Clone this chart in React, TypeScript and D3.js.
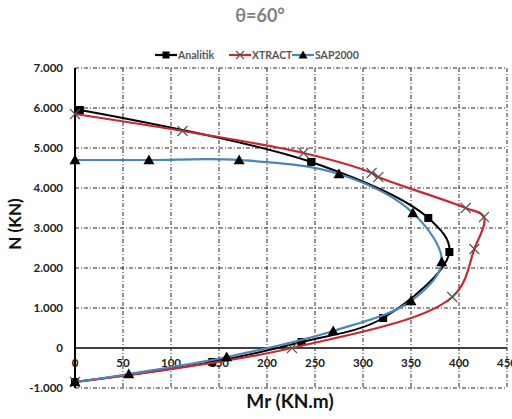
import React, { useEffect, useRef } from 'react';
import * as d3 from 'd3';

// Analitik (black, squares)
const analitikM = [5, 246, 368, 390, 321, 236, 143, 0];
const analitikN = [5950, 4650, 3250, 2400, 750, 150, -350, -850];

// XTRACT (red, crosses)
const xtractM = [0, 112, 238, 309, 316, 407, 426, 416, 393, 226, 0];
const xtractN = [5850, 5425, 4875, 4375, 4275, 3500, 3275, 2475, 1275, 0, -850];

// SAP2000 (blue, triangles)
const sapM = [0, 77, 171, 275, 352, 382, 350, 269, 158, 56, 0];
const sapN = [4700, 4700, 4700, 4350, 3375, 2150, 1175, 425, -225, -650, -850];

const xTicks = [0, 50, 100, 150, 200, 250, 300, 350, 400, 450];
const yTicks = [-1000, 0, 1000, 2000, 3000, 4000, 5000, 6000, 7000];
const yTickLabels = ['-1.000', '0', '1.000', '2.000', '3.000', '4.000', '5.000', '6.000', '7.000'];

const seriesNames = ['Analitik', 'XTRACT', 'SAP2000'];

const FONT = 'Lato, "Liberation Sans", Arial, sans-serif';
const RED = '#c8282e';
const BLUE = '#4a86b8';

type Pt = [number, number];

const App: React.FC = () => {
    const svgRef = useRef<SVGSVGElement>(null);

    useEffect(() => {
        if (!svgRef.current) return;
        const svg = d3.select(svgRef.current);
        svg.selectAll('*').remove();

        const x = d3.scaleLinear().domain([0, 450]).range([75, 507]);
        const y = d3.scaleLinear().domain([-1000, 7000]).range([388, 68]);

        // title
        svg.append('text')
            .attr('x', 260).attr('y', 22)
            .attr('text-anchor', 'middle')
            .attr('font-family', FONT).attr('font-weight', 'bold')
            .attr('font-size', 18).attr('fill', '#7f7f7f')
            .text('θ=60°');

        // grid (dash-dot)
        const grid = svg.append('g')
            .attr('stroke', '#111').attr('stroke-width', 0.9)
            .attr('stroke-dasharray', '4,2,1,2');
        grid.selectAll('.vg').data(xTicks.slice(1)).enter().append('line')
            .attr('x1', d => x(d)).attr('x2', d => x(d))
            .attr('y1', y(7000)).attr('y2', y(-1000));
        grid.selectAll('.hg').data(yTicks.filter(d => d !== 0)).enter().append('line')
            .attr('x1', x(0)).attr('x2', x(450))
            .attr('y1', d => y(d)).attr('y2', d => y(d));

        // zero line and y axis
        svg.append('line')
            .attr('x1', x(0)).attr('x2', x(450))
            .attr('y1', y(0)).attr('y2', y(0))
            .attr('stroke', '#404040').attr('stroke-width', 2);
        svg.append('line')
            .attr('x1', x(0)).attr('x2', x(0))
            .attr('y1', y(7000)).attr('y2', y(-1000))
            .attr('stroke', '#000').attr('stroke-width', 2);

        // y tick labels
        svg.selectAll('.yl').data(yTicks).enter().append('text')
            .attr('x', 63).attr('y', d => y(d) + 4)
            .attr('text-anchor', 'end')
            .attr('font-family', FONT).attr('font-weight', 'bold')
            .attr('font-size', 11.5).attr('fill', '#222')
            .text((d, i) => yTickLabels[i]);

        // x tick labels (sitting under zero line)
        svg.selectAll('.xl').data(xTicks).enter().append('text')
            .attr('x', d => x(d)).attr('y', y(0) + 19)
            .attr('text-anchor', 'middle')
            .attr('font-family', FONT).attr('font-weight', 'bold')
            .attr('font-size', 11.5).attr('fill', '#222')
            .text(d => String(d));

        // axis titles
        svg.append('text')
            .attr('x', 290).attr('y', 408)
            .attr('text-anchor', 'middle')
            .attr('font-family', FONT).attr('font-weight', 'bold')
            .attr('font-size', 19).attr('fill', '#111')
            .text('Mr (KN.m)');
        svg.append('text')
            .attr('transform', 'translate(21,224) rotate(-90)')
            .attr('text-anchor', 'middle')
            .attr('font-family', FONT).attr('font-weight', 'bold')
            .attr('font-size', 17).attr('fill', '#111')
            .text('N (KN)');

        const line = d3.line<Pt>()
            .x(d => x(d[0])).y(d => y(d[1]))
            .curve(d3.curveCatmullRom.alpha(0.5));

        const zip = (m: number[], n: number[]): Pt[] => m.map((v, i) => [v, n[i]]);
        const aPts = zip(analitikM, analitikN);
        const xPts = zip(xtractM, xtractN);
        const sPts = zip(sapM, sapN);

        const square = (g: d3.Selection<SVGGElement, unknown, null, undefined>, px: number, py: number, s: number) =>
            g.append('rect').attr('x', px - s / 2).attr('y', py - s / 2)
                .attr('width', s).attr('height', s).attr('fill', '#000');
        const cross = (g: d3.Selection<SVGGElement, unknown, null, undefined>, px: number, py: number, s: number) =>
            g.append('path')
                .attr('d', `M${px - s},${py - s}L${px + s},${py + s}M${px - s},${py + s}L${px + s},${py - s}`)
                .attr('stroke', '#555').attr('stroke-width', 1.1).attr('fill', 'none');
        const tri = (g: d3.Selection<SVGGElement, unknown, null, undefined>, px: number, py: number, s: number) =>
            g.append('path')
                .attr('d', `M${px},${py - s}L${px + s},${py + s * 0.75}L${px - s},${py + s * 0.75}Z`)
                .attr('fill', '#000');

        const plot = svg.append('g');

        // Analitik
        plot.append('path').attr('d', line(aPts)).attr('fill', 'none')
            .attr('stroke', '#000').attr('stroke-width', 2);
        const aG = plot.append('g');
        aPts.forEach(p => square(aG, x(p[0]), y(p[1]), 8));

        // XTRACT
        plot.append('path').attr('d', line(xPts)).attr('fill', 'none')
            .attr('stroke', RED).attr('stroke-width', 2.2);
        const xG = plot.append('g');
        xPts.forEach(p => cross(xG, x(p[0]), y(p[1]), 5));

        // SAP2000
        plot.append('path').attr('d', line(sPts)).attr('fill', 'none')
            .attr('stroke', BLUE).attr('stroke-width', 2.2);
        const sG = plot.append('g');
        sPts.forEach(p => tri(sG, x(p[0]), y(p[1]), 5.5));

        // legend
        const legend = svg.append('g').attr('font-family', FONT)
            .attr('font-weight', 'bold').attr('font-size', 10.5);
        const lx = [155, 229, 292];
        const colors = ['#000', RED, BLUE];
        seriesNames.forEach((name, i) => {
            const lg = legend.append('g');
            lg.append('line').attr('x1', lx[i]).attr('x2', lx[i] + 22)
                .attr('y1', 55).attr('y2', 55)
                .attr('stroke', colors[i]).attr('stroke-width', 2.2);
            if (i === 0) square(lg, lx[i] + 11, 55, 7);
            if (i === 1) cross(lg, lx[i] + 11, 55, 4);
            if (i === 2) tri(lg, lx[i] + 11, 55, 4.5);
            lg.append('text').attr('x', lx[i] + 23).attr('y', 59)
                .attr('fill', '#555').text(name);
        });
    }, []);

    return (
        <svg
            ref={svgRef}
            width={512}
            height={419}
            style={{ position: 'absolute', left: 0, top: 0, background: '#fff' }}
        />
    );
};

export default App;
